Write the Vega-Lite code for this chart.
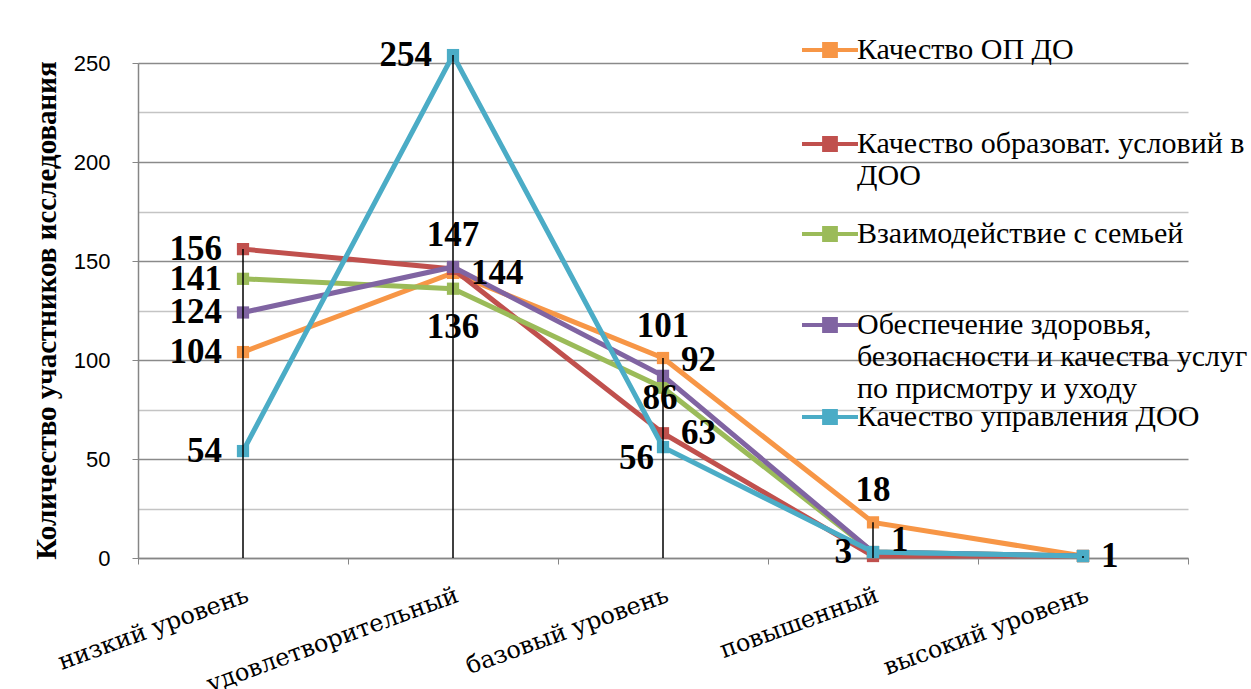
{
  "$schema": "https://vega.github.io/schema/vega-lite/v6.json",
  "width": 1050,
  "height": 495,
  "autosize": {"type": "none"},
  "padding": {"left": 138, "top": 63, "right": 63, "bottom": 131},
  "background": "white",
  "config": {
    "view": {"stroke": null},
    "font": "Liberation Serif",
    "legend": {
      "orient": "none",
      "title": null,
      "symbolType": "M-1,0H1M-0.21,-0.21H0.21V0.21H-0.21Z",
      "symbolSize": 3136,
      "symbolStrokeWidth": 4,
      "labelFont": "Liberation Serif",
      "labelFontSize": 30,
      "labelColor": "black",
      "labelLimit": 700,
      "labelOffset": -3,
      "labelLineHeight": 35,
      "labelBaseline": "middle",
      "padding": 0
    }
  },
  "data": {
    "values": [
      {"cat": "низкий уровень", "series": "Качество ОП ДО", "value": 104},
      {"cat": "удовлетворительный", "series": "Качество ОП ДО", "value": 144},
      {"cat": "базовый уровень", "series": "Качество ОП ДО", "value": 101},
      {"cat": "повышенный", "series": "Качество ОП ДО", "value": 18},
      {"cat": "высокий уровень", "series": "Качество ОП ДО", "value": 1},
      {"cat": "низкий уровень", "series": "Качество образоват. условий в ДОО", "value": 156},
      {"cat": "удовлетворительный", "series": "Качество образоват. условий в ДОО", "value": 146},
      {"cat": "базовый уровень", "series": "Качество образоват. условий в ДОО", "value": 63},
      {"cat": "повышенный", "series": "Качество образоват. условий в ДОО", "value": 1},
      {"cat": "высокий уровень", "series": "Качество образоват. условий в ДОО", "value": 1},
      {"cat": "низкий уровень", "series": "Взаимодействие с семьей", "value": 141},
      {"cat": "удовлетворительный", "series": "Взаимодействие с семьей", "value": 136},
      {"cat": "базовый уровень", "series": "Взаимодействие с семьей", "value": 86},
      {"cat": "повышенный", "series": "Взаимодействие с семьей", "value": 3},
      {"cat": "высокий уровень", "series": "Взаимодействие с семьей", "value": 1},
      {"cat": "низкий уровень", "series": "Обеспечение здоровья, безопасности и качества услуг по присмотру и уходу", "value": 124},
      {"cat": "удовлетворительный", "series": "Обеспечение здоровья, безопасности и качества услуг по присмотру и уходу", "value": 147},
      {"cat": "базовый уровень", "series": "Обеспечение здоровья, безопасности и качества услуг по присмотру и уходу", "value": 92},
      {"cat": "повышенный", "series": "Обеспечение здоровья, безопасности и качества услуг по присмотру и уходу", "value": 3},
      {"cat": "высокий уровень", "series": "Обеспечение здоровья, безопасности и качества услуг по присмотру и уходу", "value": 1},
      {"cat": "низкий уровень", "series": "Качество управления ДОО", "value": 54},
      {"cat": "удовлетворительный", "series": "Качество управления ДОО", "value": 254},
      {"cat": "базовый уровень", "series": "Качество управления ДОО", "value": 56},
      {"cat": "повышенный", "series": "Качество управления ДОО", "value": 3},
      {"cat": "высокий уровень", "series": "Качество управления ДОО", "value": 1}
    ]
  },
  "encoding": {
    "x": {
      "field": "cat",
      "type": "nominal",
      "sort": ["низкий уровень", "удовлетворительный", "базовый уровень", "повышенный", "высокий уровень"],
      "bandPosition": 0.5,
      "scale": {"type": "band", "paddingInner": 0, "paddingOuter": 0},
      "axis": {
        "title": null,
        "grid": false,
        "labelAngle": -20,
        "labelAlign": "right",
        "labelBaseline": "top",
        "labelFont": "DejaVu Serif",
        "labelFontSize": 24,
        "labelColor": "black",
        "labelPadding": 19,
        "labelLimit": 500,
        "tickBand": "extent",
        "tickSize": 6,
        "tickColor": "#868686",
        "domainColor": "#868686",
        "domainWidth": 1.5
      }
    },
    "y": {
      "field": "value",
      "type": "quantitative",
      "scale": {"domain": [0, 250], "nice": false},
      "axis": {
        "title": "Количество участников исследования",
        "values": [0, 25, 50, 75, 100, 125, 150, 175, 200, 225, 250],
        "labelExpr": "datum.value % 50 === 0 ? datum.label : ''",
        "labelOverlap": false,
        "labelFlush": false,
        "labelFont": "Liberation Sans",
        "labelFontSize": 22,
        "labelColor": "black",
        "labelPadding": 22,
        "tickSize": 6,
        "tickColor": {"condition": {"test": "datum.value % 50 === 0", "value": "#868686"}, "value": "transparent"},
        "domainColor": "#868686",
        "domainWidth": 1.5,
        "gridColor": {"condition": {"test": "datum.value % 50 === 0", "value": "#8a8a8a"}, "value": "#c4c4c4"},
        "gridWidth": 1.5,
        "titleFont": "Liberation Serif",
        "titleFontWeight": "bold",
        "titleFontSize": 29,
        "titleColor": "black",
        "titleX": -92,
        "titleY": 247,
        "titleAlign": "center",
        "titleBaseline": "middle"
      }
    }
  },
  "layer": [
    {
      "transform": [{"filter": "datum.series === 'Качество ОП ДО'"}],
      "mark": {"type": "line", "strokeWidth": 5, "point": {"shape": "square", "size": 150, "filled": true}},
      "encoding": {
        "color": {
          "field": "series", "type": "nominal",
          "scale": {"domain": ["Качество ОП ДО"], "range": ["#F79646"]},
          "legend": {"legendX": 662, "legendY": -43, "symbolStrokeColor": "#F79646", "symbolFillColor": "#F79646"}
        }
      }
    },
    {
      "transform": [{"filter": "datum.series === 'Качество образоват. условий в ДОО'"}],
      "mark": {"type": "line", "strokeWidth": 5, "point": {"shape": "square", "size": 150, "filled": true}},
      "encoding": {
        "color": {
          "field": "series", "type": "nominal",
          "scale": {"domain": ["Качество образоват. условий в ДОО"], "range": ["#C0504D"]},
          "legend": {"legendX": 662, "legendY": 51, "symbolStrokeColor": "#C0504D", "symbolFillColor": "#C0504D", "labelExpr": "['Качество образоват. условий в', 'ДОО']"}
        }
      }
    },
    {
      "transform": [{"filter": "datum.series === 'Взаимодействие с семьей'"}],
      "mark": {"type": "line", "strokeWidth": 5, "point": {"shape": "square", "size": 150, "filled": true}},
      "encoding": {
        "color": {
          "field": "series", "type": "nominal",
          "scale": {"domain": ["Взаимодействие с семьей"], "range": ["#9BBB59"]},
          "legend": {"legendX": 662, "legendY": 141, "symbolStrokeColor": "#9BBB59", "symbolFillColor": "#9BBB59"}
        }
      }
    },
    {
      "transform": [{"filter": "indexof(datum.series, 'Обеспечение') === 0"}],
      "mark": {"type": "line", "strokeWidth": 5, "point": {"shape": "square", "size": 150, "filled": true}},
      "encoding": {
        "color": {
          "field": "series", "type": "nominal",
          "scale": {"domain": ["Обеспечение здоровья, безопасности и качества услуг по присмотру и уходу"], "range": ["#8064A2"]},
          "legend": {"legendX": 662, "legendY": 232, "symbolStrokeColor": "#8064A2", "symbolFillColor": "#8064A2", "labelExpr": "['Обеспечение здоровья,', 'безопасности и качества услуг', 'по присмотру и уходу']"}
        }
      }
    },
    {
      "transform": [{"filter": "datum.series === 'Качество управления ДОО'"}],
      "mark": {"type": "line", "strokeWidth": 5, "point": {"shape": "square", "size": 150, "filled": true}},
      "encoding": {
        "color": {
          "field": "series", "type": "nominal",
          "scale": {"domain": ["Качество управления ДОО"], "range": ["#4BACC6"]},
          "legend": {"legendX": 662, "legendY": 324, "symbolStrokeColor": "#4BACC6", "symbolFillColor": "#4BACC6"}
        }
      }
    },
    {
      "mark": {"type": "rule", "color": "black", "strokeWidth": 1.5},
      "encoding": {
        "y": {"aggregate": "max", "field": "value", "type": "quantitative"},
        "y2": {"datum": 0}
      }
    },
    {
      "transform": [{"filter": "datum.cat === 'низкий уровень' || (datum.series === 'Качество управления ДОО' && (datum.cat === 'удовлетворительный' || datum.cat === 'повышенный'))"}],
      "mark": {"type": "text", "align": "right", "baseline": "middle", "dx": -21, "font": "Liberation Serif", "fontWeight": "bold", "fontSize": 35, "color": "black"},
      "encoding": {"text": {"field": "value", "type": "quantitative"}}
    },
    {
      "transform": [{"filter": "datum.series === 'Качество управления ДОО' && datum.cat === 'базовый уровень'"}],
      "mark": {"type": "text", "align": "right", "baseline": "middle", "dx": -9, "dy": 11, "font": "Liberation Serif", "fontWeight": "bold", "fontSize": 35, "color": "black"},
      "encoding": {"text": {"field": "value", "type": "quantitative"}}
    },
    {
      "transform": [{"filter": "(datum.cat === 'удовлетворительный' && datum.series === 'Качество ОП ДО') || (datum.cat === 'базовый уровень' && datum.series === 'Качество образоват. условий в ДОО') || (datum.cat === 'высокий уровень' && datum.series === 'Качество управления ДОО')"}],
      "mark": {"type": "text", "align": "left", "baseline": "middle", "dx": 18, "font": "Liberation Serif", "fontWeight": "bold", "fontSize": 35, "color": "black"},
      "encoding": {"text": {"field": "value", "type": "quantitative"}}
    },
    {
      "transform": [{"filter": "(datum.cat === 'базовый уровень' && indexof(datum.series, 'Обеспечение') === 0) || (datum.cat === 'повышенный' && datum.series === 'Качество образоват. условий в ДОО')"}],
      "mark": {"type": "text", "align": "left", "baseline": "middle", "dx": 18, "dy": -16, "font": "Liberation Serif", "fontWeight": "bold", "fontSize": 35, "color": "black"},
      "encoding": {"text": {"field": "value", "type": "quantitative"}}
    },
    {
      "transform": [{"filter": "(datum.cat === 'удовлетворительный' && indexof(datum.series, 'Обеспечение') === 0) || (datum.series === 'Качество ОП ДО' && (datum.cat === 'базовый уровень' || datum.cat === 'повышенный'))"}],
      "mark": {"type": "text", "align": "center", "baseline": "bottom", "dy": -14, "font": "Liberation Serif", "fontWeight": "bold", "fontSize": 35, "color": "black"},
      "encoding": {"text": {"field": "value", "type": "quantitative"}}
    },
    {
      "transform": [{"filter": "datum.series === 'Взаимодействие с семьей' && datum.cat === 'удовлетворительный'"}],
      "mark": {"type": "text", "align": "center", "baseline": "top", "dy": 21, "font": "Liberation Serif", "fontWeight": "bold", "fontSize": 35, "color": "black"},
      "encoding": {"text": {"field": "value", "type": "quantitative"}}
    },
    {
      "transform": [{"filter": "datum.series === 'Взаимодействие с семьей' && datum.cat === 'базовый уровень'"}],
      "mark": {"type": "text", "align": "center", "baseline": "middle", "dx": -3, "dy": 10, "font": "Liberation Serif", "fontWeight": "bold", "fontSize": 35, "color": "black"},
      "encoding": {"text": {"field": "value", "type": "quantitative"}}
    }
  ],
  "resolve": {"scale": {"color": "independent"}, "legend": {"color": "independent"}}
}
